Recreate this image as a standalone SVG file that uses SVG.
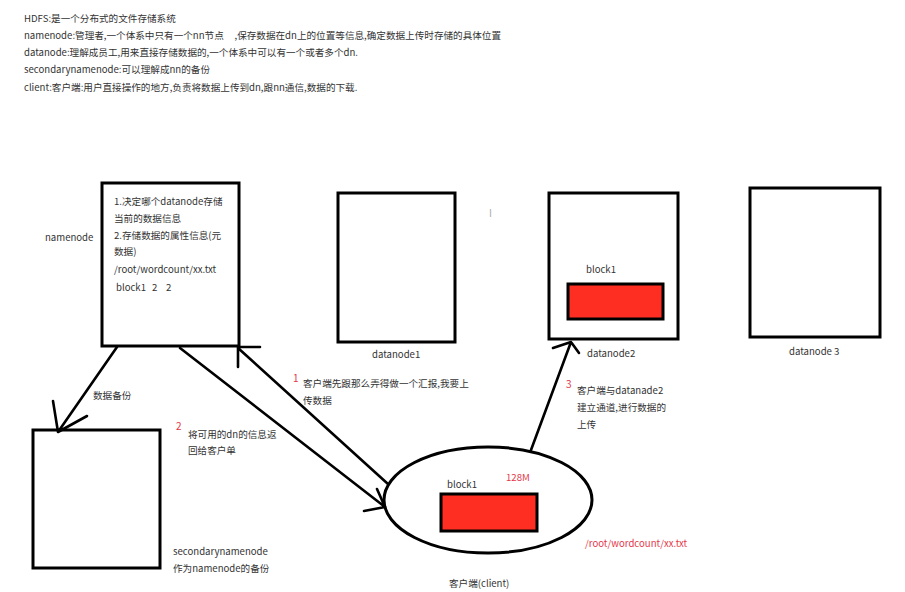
<svg xmlns="http://www.w3.org/2000/svg" width="905" height="592" viewBox="0 0 905 592">
<style>
  text { font-family: "Noto Sans CJK SC", "Noto Sans", sans-serif; font-size: 9.6px; fill: #333333; }
  .red { fill: #e4374a; }
  .num { fill: #e4374a; font-size: 10px; }
  .box { fill: #ffffff; stroke: #000000; stroke-width: 3; }
  .blk { fill: #ff2e22; stroke: #000000; stroke-width: 3; }
  .ln { fill: none; stroke: #000000; stroke-width: 2.6; stroke-linecap: round; stroke-linejoin: round; }
</style>
<rect x="0" y="0" width="905" height="592" fill="#ffffff"/>

<g id="header">
  <text x="24" y="21.5">HDFS:是一个分布式的文件存储系统</text>
  <text x="24" y="38.5" xml:space="preserve">namenode:管理者,一个体系中只有一个nn节点     ,保存数据在dn上的位置等信息,确定数据上传时存储的具体位置</text>
  <text x="24" y="55.5">datanode:理解成员工,用来直接存储数据的,一个体系中可以有一个或者多个dn.</text>
  <text x="24" y="73">secondarynamenode:可以理解成nn的备份</text>
  <text x="24" y="90.5">client:客户端:用户直接操作的地方,负责将数据上传到dn,跟nn通信,数据的下载.</text>
</g>

<g id="namenode">
  <rect class="box" x="102" y="183" width="137" height="163"/>
  <text x="45" y="241">namenode</text>
  <text x="114" y="205">1.决定哪个datanode存储</text>
  <text x="114" y="222">当前的数据信息</text>
  <text x="114" y="239">2.存储数据的属性信息(元</text>
  <text x="114" y="255">数据)</text>
  <text x="114" y="273">/root/wordcount/xx.txt</text>
  <text x="116" y="291">block1</text>
  <text x="152" y="291">2</text>
  <text x="166" y="291">2</text>
</g>

<g id="datanode1">
  <rect class="box" x="338" y="193" width="117" height="149"/>
  <text x="372" y="358">datanode1</text>
</g>

<g id="datanode2">
  <rect class="box" x="549" y="193" width="129" height="146"/>
  <text x="586" y="273">block1</text>
  <rect class="blk" x="568" y="284" width="95" height="35"/>
  <text x="587" y="357">datanode2</text>
</g>

<g id="datanode3">
  <rect class="box" x="750" y="188" width="130" height="149"/>
  <text x="789" y="355">datanode 3</text>
</g>

<g id="secondarynamenode">
  <rect class="box" x="33" y="430" width="127" height="138"/>
  <text x="173" y="555">secondarynamenode</text>
  <text x="173" y="572">作为namenode的备份</text>
</g>

<g id="client">
  <ellipse class="box" cx="488" cy="500" rx="104" ry="53"/>
  <text x="447" y="488">block1</text>
  <text class="red" x="506" y="481">128M</text>
  <rect class="blk" x="441" y="494" width="96" height="37"/>
  <text class="red" x="585" y="547">/root/wordcount/xx.txt</text>
  <text x="449" y="587">客户端(client)</text>
</g>

<g id="connectors">
  <!-- namenode -> secondarynamenode -->
  <path class="ln" d="M117 347 L58 432 M53 401 L58 432 L87 416"/>
  <!-- client -> namenode (1) -->
  <path class="ln" d="M388 484 L238 348 M260 347 L238 347 L238 367"/>
  <!-- namenode -> client (2) -->
  <path class="ln" d="M180 348 L385 507 M377 489 L385 507 L364 511"/>
  <!-- client -> datanode2 (3) -->
  <path class="ln" d="M531 450 L571 342 M553 348 L571 342 L579 353"/>
</g>

<g id="labels">
  <text x="93" y="399">数据备份</text>
  <text class="num" x="293" y="382">1</text>
  <text x="303" y="387">客户端先跟那么弄得做一个汇报,我要上</text>
  <text x="303" y="404">传数据</text>
  <text class="num" x="176" y="430">2</text>
  <text x="188" y="438">将可用的dn的信息返</text>
  <text x="188" y="454">回给客户单</text>
  <text class="num" x="566" y="388">3</text>
  <text x="577" y="394">客户端与datanade2</text>
  <text x="577" y="411">建立通道,进行数据的</text>
  <text x="577" y="428">上传</text>
  <text x="489" y="217" style="fill:#aaaaaa;font-size:10px">I</text>
</g>
</svg>
